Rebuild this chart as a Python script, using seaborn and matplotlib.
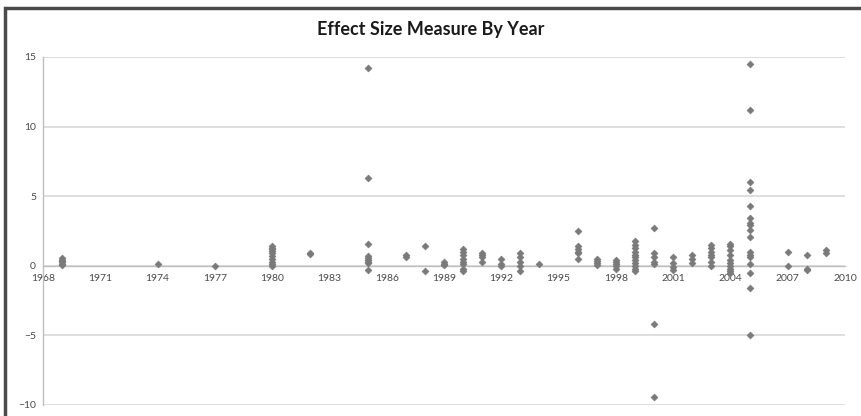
import matplotlib
matplotlib.use("Agg")
import matplotlib.pyplot as plt
import seaborn as sns
import pandas as pd
from matplotlib.patches import Rectangle

# ---- data ----
years = [1969, 1974, 1977, 1980, 1982, 1985, 1987, 1988, 1989, 1990, 1991,
         1992, 1993, 1994, 1996, 1997, 1998, 1999, 2000, 2001, 2002, 2003,
         2004, 2005, 2007, 2008, 2009]
effect_sizes = [
    [0.05, 0.15, 0.25, 0.35, 0.45, 0.55],                        # 1969
    [0.15],                                                      # 1974
    [-0.05],                                                     # 1977
    [0.0, 0.1, 0.3, 0.5, 0.7, 0.9, 1.05, 1.2, 1.3, 1.4],          # 1980
    [0.9, 0.82],                                                 # 1982
    [14.2, 6.3, 1.6, 0.7, 0.55, 0.4, 0.3, 0.2, -0.3],            # 1985
    [0.8, 0.65],                                                 # 1987
    [1.4, -0.4],                                                 # 1988
    [0.3, 0.15, 0.05],                                           # 1989
    [1.2, 1.0, 0.75, 0.5, 0.3, 0.1, -0.2, -0.4],                 # 1990
    [0.9, 0.75, 0.6, 0.3],                                       # 1991
    [0.5, 0.1, -0.05],                                           # 1992
    [0.9, 0.6, 0.3, 0.0, -0.4],                                  # 1993
    [0.15],                                                      # 1994
    [2.5, 1.4, 1.2, 1.0, 0.9, 0.5],                              # 1996
    [0.5, 0.35, 0.2, 0.05],                                      # 1997
    [0.4, 0.3, 0.1, -0.05, -0.2],                                # 1998
    [1.8, 1.5, 1.3, 1.0, 0.8, 0.6, 0.4, 0.2, 0.0, -0.2, -0.4],   # 1999
    [2.7, 0.9, 0.6, 0.3, 0.1, -4.15, -9.45],                     # 2000
    [0.6, 0.2, -0.1, -0.3],                                      # 2001
    [0.8, 0.5, 0.2],                                             # 2002
    [1.5, 1.3, 1.0, 0.8, 0.6, 0.3, 0.0],                         # 2003
    [1.6, 1.4, 1.1, 0.8, 0.4, 0.2, 0.0, -0.2, -0.4, -0.5],       # 2004
    [14.5, 11.2, 6.05, 5.45, 4.3, 3.4, 3.1, 2.9, 2.6, 2.1,
     0.96, 0.8, 0.6, 0.1, -0.5, -1.6, -5.0],                     # 2005
    [1.0, 0.0],                                                  # 2007
    [0.77, -0.2, -0.3],                                          # 2008
    [1.15, 0.93],                                                # 2009
]
x_ticks = [1968, 1971, 1974, 1977, 1980, 1983, 1986, 1989, 1992, 1995,
           1998, 2001, 2004, 2007, 2010]
y_ticks = [-10, -5, 0, 5, 10, 15]
title = "Effect Size Measure By Year"

df = pd.DataFrame({
    "Year": [y for y, vals in zip(years, effect_sizes) for _ in vals],
    "Effect": [v for vals in effect_sizes for v in vals],
})

sns.set_theme(style="white")
plt.rcParams["font.family"] = ["Lato", "DejaVu Sans"]

W, H = 862, 416
fig = plt.figure(figsize=(W / 100, H / 100), dpi=100)
ax = fig.add_axes([43 / W, 1 - 405 / H, (845 - 43) / W, (405 - 57) / H])

sns.scatterplot(data=df, x="Year", y="Effect", ax=ax, marker="D", s=12,
                color="#7a7a7a", edgecolor="#7a7a7a", linewidth=0.5, zorder=3)

ax.set_xlim(1968, 2010)
ax.set_ylim(-10, 15)
ax.set_xticks(x_ticks)
ax.set_yticks(y_ticks)
ax.set_xlabel("")
ax.set_ylabel("")
for yv in y_ticks:
    ax.axhline(yv, color="#d4d4d4", lw=1.1, zorder=1)

for s in ["top", "right"]:
    ax.spines[s].set_visible(False)
ax.spines["bottom"].set_position(("data", 0))
ax.spines["bottom"].set_color("#bfbfbf")
ax.spines["left"].set_color("#bfbfbf")
ax.spines["bottom"].set_linewidth(1.0)
ax.spines["left"].set_linewidth(1.0)
ax.tick_params(axis="both", direction="out", length=3, width=0.8,
               color="#bfbfbf", labelsize=7.5, labelcolor="#4a4a4a", pad=2)
ax.tick_params(axis="x", pad=3)

fig.text(431 / W, 1 - 30 / H, title, ha="center", va="center",
         fontsize=13, fontweight="bold", color="#1a1a1a")

# dark frame of the chart area (left and top visible)
fig.add_artist(Rectangle((5 / W, -0.1), 1.2, 1 - 8 / H + 0.1,
                         transform=fig.transFigure, fill=False,
                         edgecolor="#4a4a4a", lw=2.5))

fig.savefig("out.png", dpi=100)
